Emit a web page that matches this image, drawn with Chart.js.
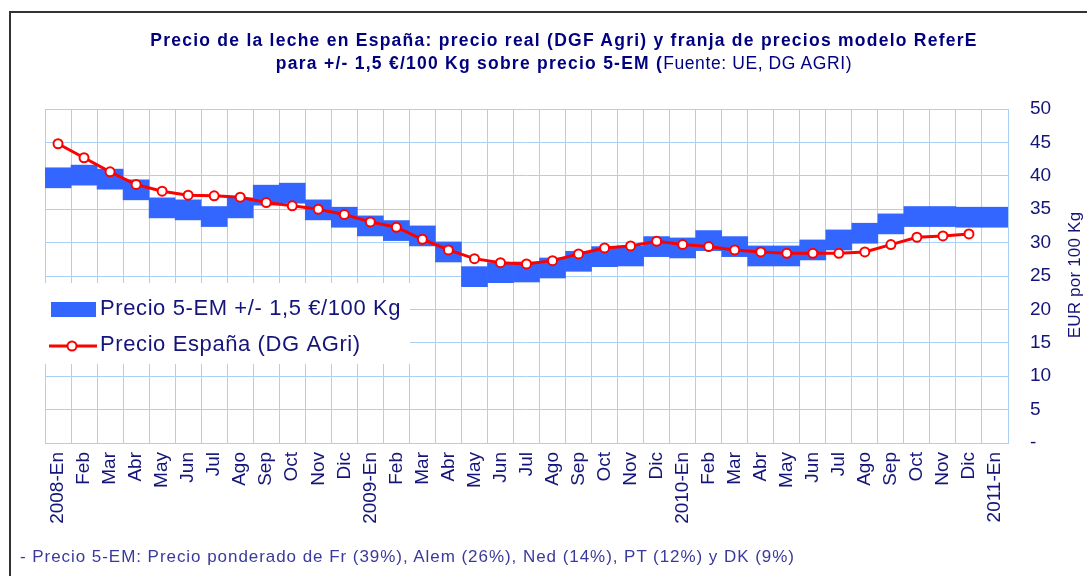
<!DOCTYPE html>
<html>
<head>
<meta charset="utf-8">
<script src="https://cdn.jsdelivr.net/npm/chart.js@4"></script>
<style>
  html, body { margin:0; padding:0; background:#fff; }
  #wrap { position:relative; width:1087px; height:576px; overflow:hidden; font-family:"Liberation Sans", Arial, sans-serif; }
  #frame { position:absolute; left:9px; top:11px; width:2000px; height:2000px; border-top:2px solid #333; border-left:2px solid #333; }
  #title { position:absolute; left:0; width:1128px; top:29px; text-align:center; color:#000080; font-weight:bold; font-size:17.5px; line-height:23px; letter-spacing:1.25px; }
  #title .n { font-weight:normal; letter-spacing:0.6px; }
  #foot { position:absolute; left:20px; top:547px; color:#3a3a9e; font-size:17px; letter-spacing:0.95px; white-space:nowrap; }
  canvas { position:absolute; left:0; top:0; }
</style>
</head>
<body>
<div id="wrap">
  <div id="frame"></div>
  <canvas id="c" width="1087" height="576"></canvas>
  <div id="title">Precio de la leche en España: precio real (DGF Agri) y franja de precios modelo ReferE<br>para +/- 1,5 €/100 Kg sobre precio 5-EM (<span class="n">Fuente: UE, DG AGRI)</span></div>
  <div id="foot">- Precio 5-EM: Precio ponderado de Fr (39%), Alem (26%), Ned (14%), PT (12%) y DK (9%)</div>
</div>
<script>
const categories = ['2008-En','Feb','Mar','Abr','May','Jun','Jul','Ago','Sep','Oct','Nov','Dic',
  '2009-En','Feb','Mar','Abr','May','Jun','Jul','Ago','Sep','Oct','Nov','Dic',
  '2010-En','Feb','Mar','Abr','May','Jun','Jul','Ago','Sep','Oct','Nov','Dic','2011-En'];

const precio5EM = [39.7, 40.1, 39.5, 37.9, 35.2, 34.9, 33.9, 35.2, 37.1, 37.4, 34.9, 33.8,
  32.5, 31.8, 31.0, 28.6, 24.9, 25.5, 25.6, 26.2, 27.2, 27.9, 28.0, 29.4,
  29.2, 30.3, 29.4, 28.0, 28.0, 28.9, 30.4, 31.4, 32.8, 33.9, 33.9, 33.8, 33.8];

const franja = 1.5;

const precioEspana = [44.8, 42.7, 40.6, 38.7, 37.7, 37.1, 37.0, 36.8, 36.0, 35.5, 35.0, 34.2,
  33.1, 32.3, 30.5, 28.9, 27.6, 27.0, 26.8, 27.3, 28.3, 29.2, 29.5, 30.2,
  29.7, 29.4, 28.9, 28.6, 28.4, 28.4, 28.4, 28.6, 29.7, 30.8, 31.0, 31.3, null];

const yTicks = [0, 5, 10, 15, 20, 25, 30, 35, 40, 45, 50];
const legendLabels = ['Precio 5-EM +/- 1,5 €/100 Kg', 'Precio España (DG AGri)'];
const yAxisTitle = 'EUR por 100 Kg';

const NAVY = '#14147a';
const GRID = '#a9d0f5';
const FONT = '"Liberation Sans", Arial, sans-serif';

const extrasPlugin = {
  id: 'extras',
  afterDraw(chart) {
    const ctx = chart.ctx;
    ctx.save();
    // legend box
    ctx.fillStyle = '#fff';
    ctx.fillRect(44, 283, 366, 81);
    // item 1
    ctx.fillStyle = '#3366ff';
    ctx.fillRect(51, 302, 45, 15);
    ctx.fillStyle = NAVY;
    ctx.font = '22px ' + FONT;
    ctx.textBaseline = 'middle';
    ctx.textAlign = 'left';
    try { ctx.letterSpacing = '0.6px'; } catch(e) {}
    ctx.fillText(legendLabels[0], 100, 309);
    // item 2
    ctx.strokeStyle = '#ff0000';
    ctx.lineWidth = 3;
    ctx.beginPath(); ctx.moveTo(49, 346); ctx.lineTo(97, 346); ctx.stroke();
    ctx.beginPath(); ctx.arc(72, 346, 4.5, 0, Math.PI * 2);
    ctx.fillStyle = '#fff'; ctx.fill();
    ctx.lineWidth = 2; ctx.stroke();
    ctx.fillStyle = NAVY;
    ctx.fillText(legendLabels[1], 100, 345);
    // y axis title
    try { ctx.letterSpacing = '0.2px'; } catch(e) {}
    ctx.translate(1075, 275);
    ctx.rotate(-Math.PI / 2);
    ctx.textAlign = 'center';
    ctx.font = '17px ' + FONT;
    ctx.fillText(yAxisTitle, 0, 0);
    ctx.restore();
  }
};

new Chart(document.getElementById('c'), {
  type: 'bar',
  data: {
    labels: categories,
    datasets: [
      {
        type: 'line',
        label: legendLabels[1],
        data: precioEspana,
        borderColor: '#ff0000',
        borderWidth: 3,
        pointRadius: 4.5,
        pointBorderWidth: 2,
        pointBackgroundColor: '#ffffff',
        pointBorderColor: '#ff0000',
        tension: 0,
        order: 1
      },
      {
        type: 'bar',
        label: legendLabels[0],
        data: precio5EM.map(v => [v - franja, v + franja]),
        backgroundColor: '#3366ff',
        borderWidth: 0,
        barPercentage: 1,
        categoryPercentage: 1,
        order: 2
      }
    ]
  },
  options: {
    responsive: false,
    animation: false,
    layout: { padding: { left: 45, top: 109, right: 0, bottom: 0 } },
    plugins: { legend: { display: false }, title: { display: false }, tooltip: { enabled: false } },
    scales: {
      x: {
        offset: true,
        grid: { color: GRID, lineWidth: 1, drawTicks: false, offset: true },
        border: { color: GRID },
        ticks: {
          autoSkip: false, minRotation: 90, maxRotation: 90, padding: 9,
          color: NAVY, font: { family: FONT, size: 19 }
        },
        afterFit(s) { s.height = 133; }
      },
      y: {
        position: 'right',
        min: 0, max: 50,
        afterBuildTicks(s) { s.ticks = yTicks.map(v => ({ value: v })); },
        grid: { color: GRID, lineWidth: 1, drawTicks: false },
        border: { color: GRID },
        ticks: {
          padding: 22, crossAlign: 'near',
          color: NAVY, font: { family: FONT, size: 19 },
          callback: v => v === 0 ? '-' : String(v)
        },
        afterFit(s) { s.width = 79; }
      }
    }
  },
  plugins: [extrasPlugin]
});
</script>
</body>
</html>
